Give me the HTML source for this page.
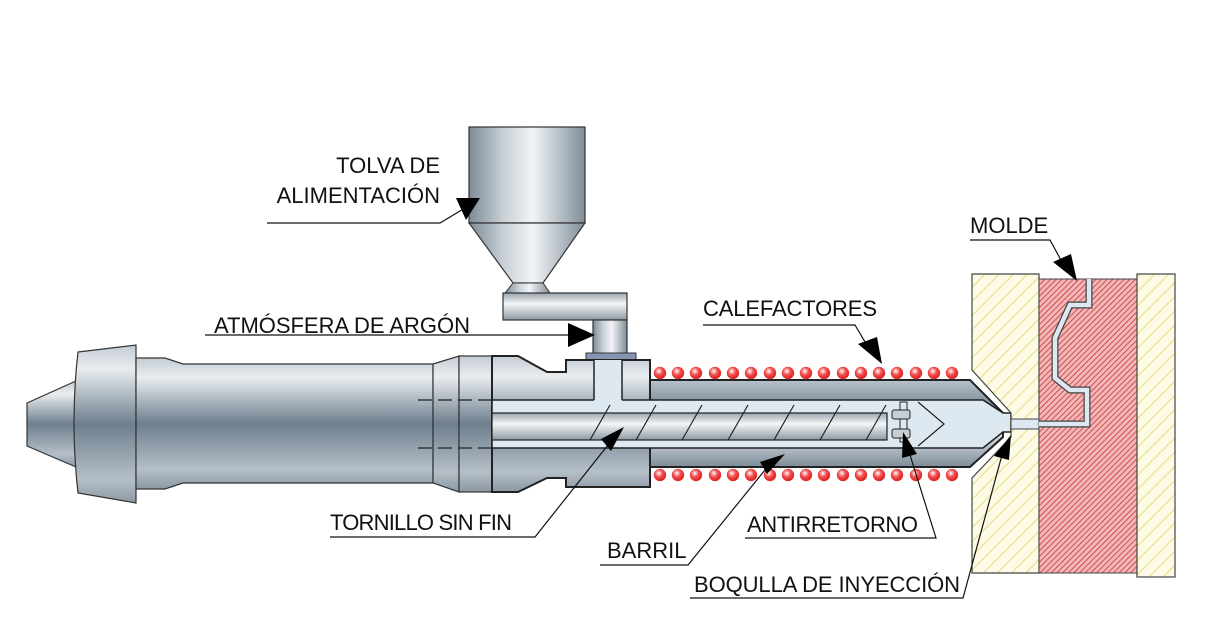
<!DOCTYPE html>
<html><head><meta charset="utf-8"><style>
html,body{margin:0;padding:0;background:#fff;}
svg{display:block;}
text{font-family:"Liberation Sans",Arial,sans-serif;font-size:22px;fill:#111;}
</style></head><body>
<svg width="1212" height="638" viewBox="0 0 1212 638" xmlns="http://www.w3.org/2000/svg">
<defs>
<linearGradient id="gv" x1="0" y1="0" x2="0" y2="1">
<stop offset="0" stop-color="#c4ccd4"/><stop offset="0.15" stop-color="#e9edf0"/><stop offset="0.5" stop-color="#6e7f8e"/><stop offset="0.85" stop-color="#b5bfc8"/><stop offset="1" stop-color="#8b98a4"/></linearGradient>
<linearGradient id="gb" x1="0" y1="0" x2="0" y2="1">
<stop offset="0" stop-color="#b8c2cb"/><stop offset="0.3" stop-color="#7a8a98"/><stop offset="0.6" stop-color="#dfe5ea"/><stop offset="1" stop-color="#7d8c99"/></linearGradient>
<linearGradient id="gh" x1="0" y1="0" x2="1" y2="0">
<stop offset="0" stop-color="#7d8b97"/><stop offset="0.3" stop-color="#c9d0d6"/><stop offset="0.55" stop-color="#f2f4f6"/><stop offset="1" stop-color="#7f8d99"/></linearGradient>
<linearGradient id="gs" x1="0" y1="0" x2="0" y2="1">
<stop offset="0" stop-color="#9aa5ae"/><stop offset="0.4" stop-color="#f4f6f8"/><stop offset="1" stop-color="#8d99a3"/></linearGradient>
<radialGradient id="gc" cx="0.4" cy="0.35" r="0.7"><stop offset="0" stop-color="#fff"/><stop offset="0.45" stop-color="#f25050"/><stop offset="1" stop-color="#d61818"/></radialGradient>
<pattern id="py" width="10" height="10" patternUnits="userSpaceOnUse" patternTransform="rotate(45)">
<rect width="10" height="10" fill="#fdfbe6"/><line x1="0" y1="0" x2="0" y2="10" stroke="#e2d56a" stroke-width="1.6"/></pattern>
<pattern id="pr" width="4" height="4" patternUnits="userSpaceOnUse" patternTransform="rotate(45)">
<rect width="4" height="4" fill="#f0b8b8"/><line x1="0" y1="0" x2="0" y2="4" stroke="#cc2b2b" stroke-width="1.5"/></pattern>
</defs>

<!-- hopper -->
<rect x="469" y="127" width="116" height="96" fill="url(#gh)" stroke="#333" stroke-width="1.2"/>
<polygon points="469,223 585,223 543,283 513,283" fill="url(#gh)" stroke="#333" stroke-width="1.2"/>
<polygon points="513,283 543,283 550,293 505,293" fill="url(#gh)" stroke="#333" stroke-width="1"/>
<rect x="503" y="293" width="124" height="27" fill="url(#gs)" stroke="#333" stroke-width="1.2"/>
<rect x="593" y="320" width="34" height="34" fill="url(#gh)" stroke="#333" stroke-width="1.2"/>
<rect x="586" y="353" width="50" height="8" fill="#8796b0" stroke="#333" stroke-width="1"/>

<!-- motor -->
<polygon points="27,403 76,381 76,467 27,446" fill="url(#gv)" stroke="#333" stroke-width="1.2"/>
<path d="M78,352 L136,345 L136,503 L78,493 Q70,422 78,352 Z" fill="url(#gv)" stroke="#333" stroke-width="1.2"/>
<polygon points="136,358 165,358 183,364 433,364 433,483 183,483 165,489 136,489" fill="url(#gv)" stroke="#333" stroke-width="1.2"/>
<polygon points="433,364 459,356 459,492 433,483" fill="url(#gv)" stroke="#333" stroke-width="1.2"/>
<rect x="459" y="356" width="33" height="136" fill="url(#gv)" stroke="#333" stroke-width="1.2"/>
<!-- housing -->
<polygon points="492,356 518,356 547,372 566,372 566,360 650,360 650,487 566,487 566,478 547,478 518,492 492,492" fill="url(#gv)" stroke="#222" stroke-width="2"/>
<!-- barrel -->
<polygon points="650,380 970,380 1003,413 1003,437 970,467 650,467" fill="url(#gb)" stroke="#222" stroke-width="2"/>
<!-- bore -->
<polygon points="492,400 983,400 1003,413 1011,413 1011,432 1003,432 983,448 492,448" fill="#dde8f0" stroke="#222" stroke-width="1.5"/>
<rect x="594" y="360" width="28" height="41" fill="#dde8f0"/>
<line x1="594" y1="360" x2="594" y2="400" stroke="#222" stroke-width="1.5"/>
<line x1="622" y1="360" x2="622" y2="400" stroke="#222" stroke-width="1.5"/>
<!-- dashed -->
<g stroke="#222" stroke-width="1.2" stroke-dasharray="14,6">
<line x1="418" y1="400" x2="492" y2="400"/><line x1="418" y1="448" x2="492" y2="448"/></g>
<!-- screw -->
<rect x="492" y="413" width="395" height="27" fill="url(#gs)" stroke="#222" stroke-width="1.2"/>
<g stroke="#222" stroke-width="1.2">
<line x1="590" y1="440" x2="610" y2="405"/><line x1="636" y1="440" x2="656" y2="405"/><line x1="682" y1="440" x2="702" y2="405"/><line x1="728" y1="440" x2="748" y2="405"/><line x1="774" y1="440" x2="794" y2="405"/><line x1="820" y1="440" x2="840" y2="405"/><line x1="866" y1="440" x2="886" y2="405"/></g>
<polyline points="918,402 944,424 918,446" fill="none" stroke="#222" stroke-width="1.2"/>
<rect x="900" y="402" width="7" height="40" fill="#dde8f0" stroke="#222"/>
<rect x="892" y="410" width="18" height="9" rx="2" fill="#c6ced4" stroke="#222"/>
<rect x="892" y="429" width="18" height="9" rx="2" fill="#c6ced4" stroke="#222"/>

<!-- heaters -->
<g fill="url(#gc)" stroke="#e33" stroke-width="0.5">
<circle cx="660" cy="373" r="6"/><circle cx="678" cy="373" r="6"/><circle cx="696" cy="373" r="6"/><circle cx="715" cy="373" r="6"/><circle cx="733" cy="373" r="6"/><circle cx="751" cy="373" r="6"/><circle cx="770" cy="373" r="6"/><circle cx="788" cy="373" r="6"/><circle cx="806" cy="373" r="6"/><circle cx="824" cy="373" r="6"/><circle cx="843" cy="373" r="6"/><circle cx="861" cy="373" r="6"/><circle cx="879" cy="373" r="6"/><circle cx="897" cy="373" r="6"/><circle cx="916" cy="373" r="6"/><circle cx="934" cy="373" r="6"/><circle cx="952" cy="373" r="6"/>
<circle cx="660" cy="475" r="6"/><circle cx="678" cy="475" r="6"/><circle cx="696" cy="475" r="6"/><circle cx="715" cy="475" r="6"/><circle cx="733" cy="475" r="6"/><circle cx="751" cy="475" r="6"/><circle cx="770" cy="475" r="6"/><circle cx="788" cy="475" r="6"/><circle cx="806" cy="475" r="6"/><circle cx="824" cy="475" r="6"/><circle cx="843" cy="475" r="6"/><circle cx="861" cy="475" r="6"/><circle cx="879" cy="475" r="6"/><circle cx="897" cy="475" r="6"/><circle cx="916" cy="475" r="6"/><circle cx="934" cy="475" r="6"/><circle cx="952" cy="475" r="6"/></g>

<!-- mold -->
<polygon points="972,274 1039,274 1039,573 972,573 972,478 1011,437 1011,413 972,370" fill="url(#py)" stroke="#444" stroke-width="1.2"/>
<rect x="1039" y="279" width="98" height="294" fill="url(#pr)" stroke="#444" stroke-width="1"/>
<rect x="1137" y="274" width="38" height="303" fill="url(#py)" stroke="#444" stroke-width="1.2"/>
<rect x="1011" y="419" width="28" height="10" fill="#dde8f0" stroke="#444" stroke-width="1"/>
<polyline points="1039,424 1087,424 1087,390 1070,390 1055,378 1055,338 1070,305 1089,305 1089,279" fill="none" stroke="#444" stroke-width="7" stroke-linejoin="miter"/>
<polyline points="1039,424 1087,424 1087,390 1070,390 1055,378 1055,338 1070,305 1089,305 1089,279" fill="none" stroke="#dde8f0" stroke-width="4.5" stroke-linejoin="miter"/>

<!-- labels -->
<g stroke="#111" stroke-width="1.2" fill="none">
<polyline points="267,223 440,223 465,208"/>
<polyline points="205,335 575,335"/>
<polyline points="703,325 855,325 868,347"/>
<polyline points="970,240 1050,240 1062,262"/>
<polyline points="330,537 535,537 608,445"/>
<polyline points="600,565 688,565 765,470"/>
<polyline points="745,538 936,538 910,455"/>
<polyline points="690,598 963,598 1002,455"/>
</g>
<g fill="#000">
<polygon points="480,198 456,198 466,220"/>
<polygon points="595,335 568,323 568,347"/>
<polygon points="882,364 858,344 877,337"/>
<polygon points="1077,281 1053,262 1071,254"/>
<polygon points="624,427 601,439 611,451"/>
<polygon points="785,454 760,462 767,474"/>
<polygon points="903,432 902,458 917,454"/>
<polygon points="1011,435 994,456 1009,460"/>
</g>
<text x="440" y="173" text-anchor="end">TOLVA DE</text>
<text x="440" y="203" text-anchor="end">ALIMENTACIÓN</text>
<text x="214" y="333" textLength="256">ATMÓSFERA DE ARGÓN</text>
<text x="703" y="316" textLength="174">CALEFACTORES</text>
<text x="970" y="233">MOLDE</text>
<text x="330" y="530" textLength="182">TORNILLO SIN FIN</text>
<text x="607" y="558">BARRIL</text>
<text x="747" y="532" textLength="171">ANTIRRETORNO</text>
<text x="694" y="592" textLength="266">BOQULLA DE INYECCIÓN</text>
</svg>
</body></html>
